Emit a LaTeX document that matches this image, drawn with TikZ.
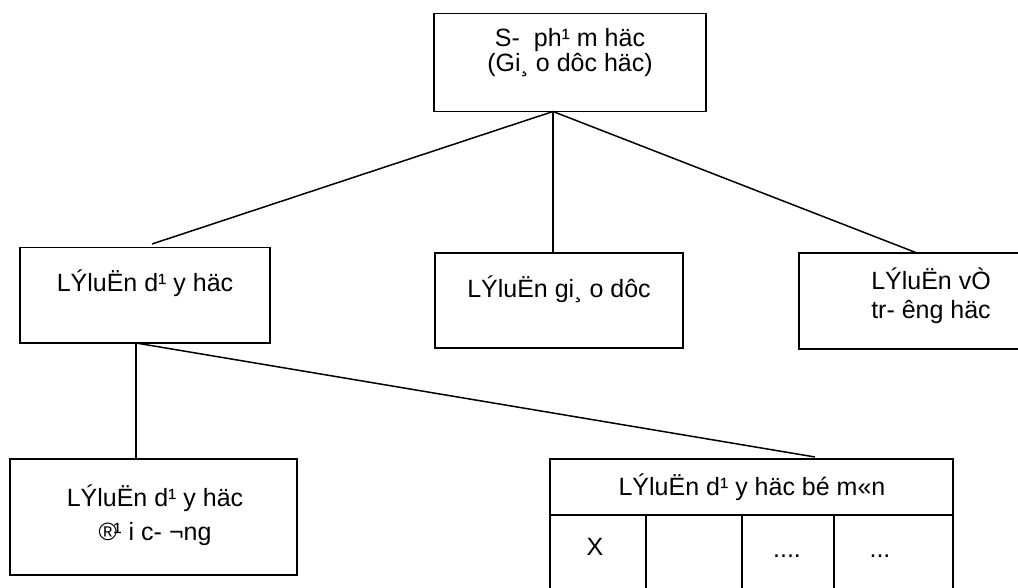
\documentclass[tikz,border=0pt]{standalone}
\usepackage{fontspec}
\setmainfont{Liberation Sans}
\begin{document}
\begin{tikzpicture}[x=1pt,y=-1pt,
  box/.style={draw=black,line width=1.5pt,rectangle,inner sep=0pt},
  lbl/.style={anchor=base,inner sep=0pt,font=\fontsize{25}{30}\selectfont},
  conn/.style={line width=1.5pt}]
\useasboundingbox (0,0) rectangle (1018,588);
\clip (0,0) rectangle (1018,588);
% boxes
\node[box,minimum width=272pt,minimum height=98pt] (top) at (570,62.5) {};
\node[box,minimum width=250pt,minimum height=95.5pt] (ld) at (145,295.3) {};
\node[box,minimum width=248pt,minimum height=95pt] (gd) at (559,300.5) {};
\node[box,minimum width=265pt,minimum height=96pt] (th) at (931.5,301) {};
\node[box,minimum width=287pt,minimum height=116pt] (dc) at (153.5,517) {};
\node[box,minimum width=403pt,minimum height=141pt] (bm) at (751.5,529.5) {};
% table lines inside bm
\coordinate (hl) at (550,515);
\coordinate (hr) at (953,515);
\draw[conn] (hl) -- (hr);
\coordinate (c1t) at (646,515); \coordinate (c1b) at (646,600);
\coordinate (c2t) at (742,515); \coordinate (c2b) at (742,600);
\coordinate (c3t) at (834,515); \coordinate (c3b) at (834,600);
\draw[conn] (c1t) -- (c1b);
\draw[conn] (c2t) -- (c2b);
\draw[conn] (c3t) -- (c3b);
% texts
\node[lbl] (t1) at (570,47) {S-\ \ ph¹ m häc};
\node[lbl] (t2) at (570,72) {(Gi¸ o dôc häc)};
\node[lbl] (t3) at (145,291) {LÝluËn d¹ y häc};
\node[lbl] (t4) at (559,298) {LÝluËn gi¸ o dôc};
\node[lbl] (t5) at (931,290) {LÝluËn vÒ};
\node[lbl] (t6) at (931,318) {tr- êng häc};
\node[lbl] (t7) at (155,506) {LÝluËn d¹ y häc};
\node[lbl] (t8) at (155,540) {®\kern-3.5pt¹ i c- ¬ng};
\node[lbl] (t9) at (752,495) {LÝluËn d¹ y häc bé m«n};
\node[lbl] (t10) at (595,555) {X};
\node[lbl] (t11) at (787,557) {....};
\node[lbl] (t12) at (880,557) {...};
% connectors
\coordinate (apex) at (553,111.5);
\coordinate (ldtop) at (152,244);
\coordinate (gdtop) at (553,253);
\coordinate (thtop) at (917,253);
\coordinate (ldbot) at (136,343);
\coordinate (dctop) at (136,459);
\coordinate (bmtop) at (815,457);
\draw[conn] (apex) -- (ldtop);
\draw[conn] (apex) -- (gdtop);
\draw[conn] (apex) -- (thtop);
\draw[conn] (ldbot) -- (dctop);
\draw[conn] (ldbot) -- (bmtop);
\end{tikzpicture}
\end{document}
